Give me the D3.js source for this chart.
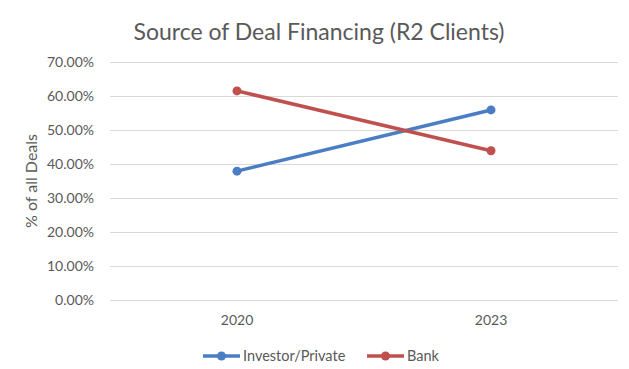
<!DOCTYPE html>
<html>
<head>
<meta charset="utf-8">
<script src="https://cdn.jsdelivr.net/npm/d3@7"></script>
<style>
  body { margin: 0; background: #fff; }
  text { font-family: Lato, "Open Sans", sans-serif; }
</style>
</head>
<body>
<div id="chart"></div>
<script>
// chart data
let years = ["2020", "2023"];
let investorPrivate = [0.379, 0.559];
let bank = [0.615, 0.439];
let yTicks = [0, 0.1, 0.2, 0.3, 0.4, 0.5, 0.6, 0.7];
let seriesNames = ["Investor/Private", "Bank"];
let seriesColors = ["#4a7ec4", "#c0504d"];

let width = 629, height = 369;
let margin = {top: 62, right: 11, bottom: 69, left: 110};

let svg = d3.select("#chart").append("svg")
    .attr("width", width)
    .attr("height", height);

let x = d3.scaleBand()
    .domain(years)
    .range([margin.left, width - margin.right]);

let y = d3.scaleLinear()
    .domain([0, 0.7])
    .range([height - margin.bottom, margin.top]);

// title
svg.append("text")
    .attr("x", 319)
    .attr("y", 40)
    .attr("text-anchor", "middle")
    .style("font-size", "23px")
    .style("fill", "#595959")
    .text("Source of Deal Financing (R2 Clients)");

// gridlines + y labels
let yAxis = d3.axisLeft(y)
    .tickValues(yTicks)
    .tickFormat(d3.format(".2%"))
    .tickSize(-(width - margin.left - margin.right))
    .tickPadding(16);

let gy = svg.append("g")
    .attr("transform", `translate(${margin.left},0)`)
    .call(yAxis);
gy.select(".domain").remove();
gy.selectAll(".tick line").attr("stroke", "#d9d9d9").attr("stroke-width", 1);
gy.selectAll(".tick text")
    .style("font-size", "14px")
    .style("fill", "#595959");

// x labels
let gx = svg.append("g")
    .attr("transform", `translate(0,${height - margin.bottom})`)
    .call(d3.axisBottom(x).tickSize(0).tickPadding(15));
gx.select(".domain").remove();
gx.selectAll(".tick text")
    .style("font-size", "14px")
    .style("fill", "#595959");

// y axis title
svg.append("text")
    .attr("transform", `translate(37,${(margin.top + height - margin.bottom) / 2}) rotate(-90)`)
    .attr("text-anchor", "middle")
    .style("font-size", "16px")
    .style("fill", "#595959")
    .text("% of all Deals");

// lines
let allSeries = [investorPrivate, bank];
let line = d3.line()
    .x((d, i) => x(years[i]) + x.bandwidth() / 2)
    .y(d => y(d));

allSeries.forEach(function(vals, s) {
    svg.append("path")
        .datum(vals)
        .attr("fill", "none")
        .attr("stroke", seriesColors[s])
        .attr("stroke-width", 3.5)
        .attr("d", line);

    svg.selectAll(null)
        .data(vals)
        .enter()
        .append("circle")
        .attr("cx", (d, i) => x(years[i]) + x.bandwidth() / 2)
        .attr("cy", d => y(d))
        .attr("r", 4.5)
        .attr("fill", seriesColors[s]);
});

// legend
let legendX = [203, 367];
let legend = svg.append("g").attr("transform", "translate(0,356)");
seriesNames.forEach(function(name, s) {
    let g = legend.append("g").attr("transform", `translate(${legendX[s]},0)`);
    g.append("line")
        .attr("x1", 0).attr("x2", 37)
        .attr("stroke", seriesColors[s])
        .attr("stroke-width", 3.5);
    g.append("circle")
        .attr("cx", 18.5).attr("r", 4.5)
        .attr("fill", seriesColors[s]);
    g.append("text")
        .attr("x", 40)
        .attr("dy", "0.35em")
        .style("font-size", "14.5px")
        .style("fill", "#595959")
        .text(name);
});
</script>
</body>
</html>
